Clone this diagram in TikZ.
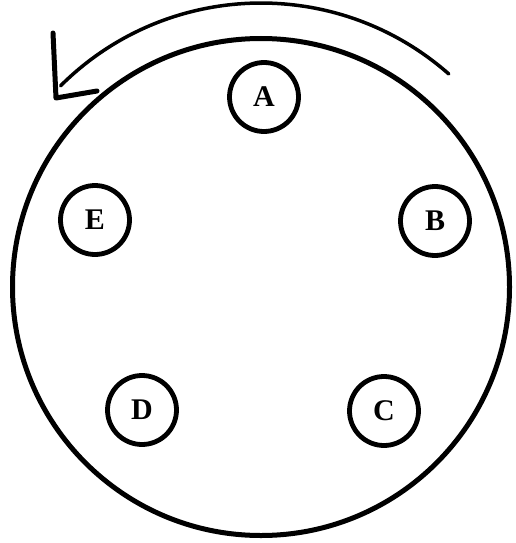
\documentclass[tikz,border=0pt]{standalone}
\usepackage{fontspec}
\setmainfont{Liberation Serif}
\usetikzlibrary{calc}
\begin{document}
\begin{tikzpicture}[x=1pt,y=-1pt,
  pin/.style={circle,draw,line width=4.8pt,minimum size=69pt,inner sep=0pt,font=\fontsize{30}{32}\selectfont\bfseries}]
\useasboundingbox (0,0) rectangle (516,543);
\coordinate (O) at (261,287);
\node[circle,draw,line width=5pt,minimum size=497pt,inner sep=0pt] (big) at (O) {};
\node[pin] (A) at (264,97) {A};
\node[pin] (B) at (435,221) {B};
\node[pin] (C) at (384,411) {C};
\node[pin] (D) at (142,410) {D};
\node[pin] (E) at (95,220) {E};
% rotation arrow
\coordinate (s) at ($(O)+(-48.6:284)$);
\draw[line width=3.5pt,line cap=round] (s) arc[start angle=-48.6, end angle=-134.9, radius=284] coordinate (e);
\coordinate (tip) at (56,98);
\coordinate (h1) at (53,33);
\coordinate (h2) at (97,91);
\draw[line width=5pt,line cap=round,line join=round] (h1) -- (tip) -- (h2);
\end{tikzpicture}
\end{document}
